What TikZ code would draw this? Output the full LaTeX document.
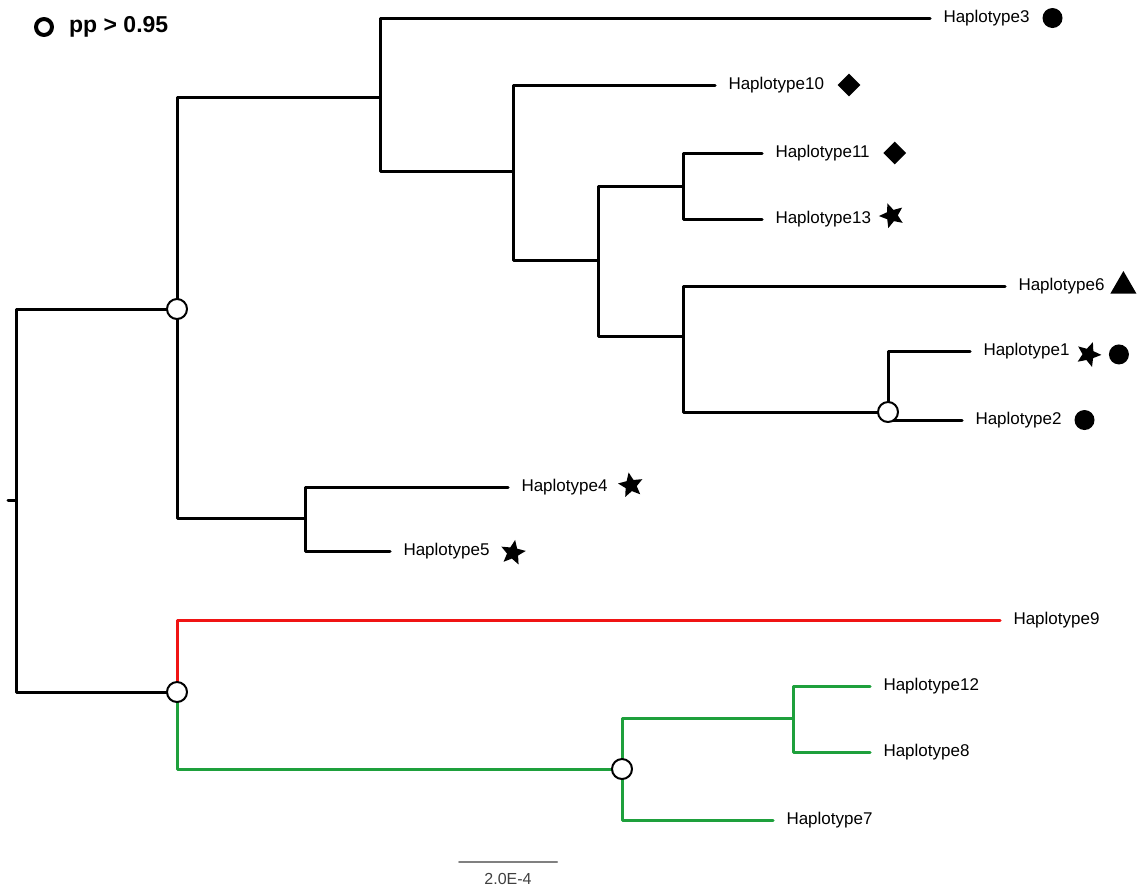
\documentclass[tikz,border=0pt]{standalone}
\usepackage{fontspec}
\setmainfont{Liberation Sans}
\usetikzlibrary{positioning,shapes.geometric}
\definecolor{brred}{RGB}{240,20,20}
\definecolor{brgreen}{RGB}{30,160,60}
\tikzset{
  pnode/.style={circle,draw,fill=white,line width=1pt,minimum size=10pt,inner sep=0pt},
  tipdot/.style={circle,fill,minimum size=10pt,inner sep=0pt},
  tipstar/.style={star,star points=5,star point ratio=2.2,fill,minimum size=13pt,inner sep=0pt},
  tipdiam/.style={diamond,fill,minimum size=12pt,inner sep=0pt},
  tiptri/.style={regular polygon,regular polygon sides=3,fill,minimum size=15pt,inner sep=0pt},
  every picture/.style={line cap=round,line join=round}
}

\begin{document}
\begin{tikzpicture}[x=0.5pt,y=-0.5pt,line width=1.5pt,
  lab/.style={anchor=west,inner xsep=6pt,inner ysep=1pt,font=\fontsize{8.5}{10}\selectfont}]
  \useasboundingbox (0,0) rectangle (1138,891);
  % internal nodes
  \coordinate (stem) at (8,500);
  \coordinate (r) at (16,500);
  \coordinate (nA) at (177,309);
  \coordinate (nB) at (380,97);
  \coordinate (nC) at (513,171);
  \coordinate (nD) at (598,260);
  \coordinate (nE) at (683,186);
  \coordinate (nG) at (683,336);
  \coordinate (nH) at (888,412);
  \coordinate (nF) at (305,518);
  \coordinate (nI) at (177,692);
  \coordinate (nJ) at (622,769);
  \coordinate (nK) at (793,718);
  % tips
  \node[lab] (h3) at (930,18) {Haplotype3};
  \node[lab] (h10) at (715,85) {Haplotype10};
  \node[lab] (h11) at (762,153) {Haplotype11};
  \node[lab] (h13) at (762,219) {Haplotype13};
  \node[lab] (h6) at (1005,286) {Haplotype6};
  \node[lab] (h1) at (970,351) {Haplotype1};
  \node[lab] (h2) at (962,420) {Haplotype2};
  \node[lab] (h4) at (508,487) {Haplotype4};
  \node[lab] (h5) at (390,551) {Haplotype5};
  \node[lab] (h9) at (1000,620) {Haplotype9};
  \node[lab] (h12) at (870,686) {Haplotype12};
  \node[lab] (h8) at (870,752) {Haplotype8};
  \node[lab] (h7) at (773,820) {Haplotype7};
  % symbols
  \node[tipdot,right=-1pt of h3] (s3) {};
  \node[tipdiam,right=-1pt of h10] (s10) {};
  \node[tipdiam,right=-1pt of h11] (s11) {};
  \node[tipstar,rotate=20,right=-1pt of h13] (s13) {};
  \node[tiptri,right=-2.5pt of h6] (s6) {};
  \node[tipstar,rotate=-20,right=-2pt of h1] (s1a) {};
  \node[tipdot,right=9.5pt of s1a.center] (s1b) {};
  \node[tipdot,right=-1pt of h2] (s2) {};
  \node[tipstar,rotate=10,right=0pt of h4] (s4) {};
  \node[tipstar,rotate=-10,right=0pt of h5] (s5) {};
  % branches
  \draw (stem) -- (r);
  \draw (r) |- (nA);
  \draw (r) |- (nI);
  \draw (nA) |- (nB);
  \draw (nA) |- (nF);
  \draw (nB) |- (h3);
  \draw (nB) |- (nC);
  \draw (nC) |- (h10);
  \draw (nC) |- (nD);
  \draw (nD) |- (nE);
  \draw (nD) |- (nG);
  \draw (nE) |- (h11);
  \draw (nE) |- (h13);
  \draw (nG) |- (h6);
  \draw (nG) |- (nH);
  \draw (nH) |- (h1);
  \draw (nH) |- (h2);
  \draw (nF) |- (h4);
  \draw (nF) |- (h5);
  \draw[brred] (nI) |- (h9);
  \draw[brgreen] (nI) |- (nJ);
  \draw[brgreen] (nJ) |- (nK);
  \draw[brgreen] (nJ) |- (h7);
  \draw[brgreen] (nK) |- (h12);
  \draw[brgreen] (nK) |- (h8);
  % supported nodes
  \node[pnode] (cA) at (nA) {};
  \node[pnode] (cH) at (nH) {};
  \node[pnode] (cI) at (nI) {};
  \node[pnode] (cJ) at (nJ) {};
  % legend
  \node[circle,draw,line width=2pt,minimum size=8pt,inner sep=0pt] (key) at (44,27) {};
  \node[right=3.5pt of key,font=\bfseries\fontsize{11.5}{13}\selectfont] (keytxt) {pp > 0.95};
  % scale bar
  \coordinate (sb1) at (459,862);
  \coordinate (sb2) at (557,862);
  \draw[gray,line width=1pt] (sb1) -- node[below=2pt,font=\fontsize{8}{9}\selectfont,text=black!75] (sblab) {2.0E-4} (sb2);
\end{tikzpicture}
\end{document}
